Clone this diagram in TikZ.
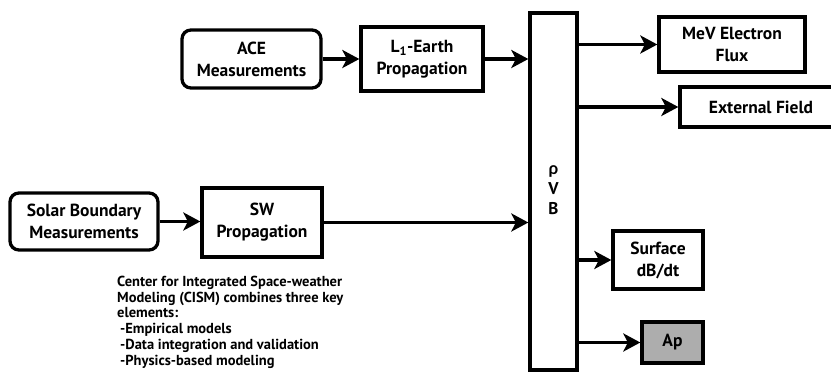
\documentclass[tikz,border=0pt]{standalone}
\usepackage{fontspec}
\setmainfont{PT Sans}
\newfontfamily\greekfont{Lato}
\usetikzlibrary{arrows.meta}
\begin{document}
\begin{tikzpicture}[x=1pt,y=-1pt,
  box/.style={draw,line width=3.3pt,align=center,inner sep=0pt,font=\fontsize{17.5}{22}\selectfont\bfseries},
  rbox/.style={box,rounded corners=9pt},
  arr/.style={line width=3.2pt,-{Stealth[length=17pt,width=18pt,inset=4.5pt]}}]
\useasboundingbox (0,0) rectangle (831,379);
\node[rbox,minimum width=139pt,minimum height=58pt] (ace) at (251.5,59) {ACE\\Measurements};
\node[box,minimum width=122pt,minimum height=64pt] (l1) at (422,59) {L\textsubscript{1}-Earth\\Propagation};
\node[box,minimum width=47pt,minimum height=357pt] (pvb) at (553.5,191.5) {};
\node[font=\fontsize{17}{20}\selectfont\bfseries,align=center] (pvbt) at (553.5,190) {{\greekfont ρ}\\V\\B};
\node[box,minimum width=146pt,minimum height=55pt] (mev) at (732,44.5) {MeV Electron\\Flux};
\node[box,minimum width=162pt,minimum height=40pt] (ext) at (761,107) {External Field};
\node[box,minimum width=90pt,minimum height=58pt] (surf) at (658,260) {Surface\\dB/dt};
\node[box,fill=black!32,minimum width=61pt,minimum height=41pt] (ap) at (672.5,342.5) {Ap};
\node[rbox,minimum width=148pt,minimum height=57pt] (solar) at (84,221.5) {Solar Boundary\\Measurements};
\node[box,minimum width=120pt,minimum height=69pt] (sw) at (262,222.5) {SW\\Propagation};
\node[anchor=north west,align=left,inner sep=0pt,font=\fontsize{14.5}{15.7}\selectfont\bfseries] (cism) at (117,276) {Center for Integrated Space-weather\\Modeling (CISM) combines three key\\elements:\\\hspace*{3pt}-Empirical models\\\hspace*{3pt}-Data integration and validation\\\hspace*{3pt}-Physics-based modeling};
\draw[arr] (ace.east) -- (l1.west);
\draw[arr] (l1.east) -- (l1.east -| pvb.west);
\draw[arr] (solar.east) -- (solar.east -| sw.west);
\draw[arr] (sw.east) -- (sw.east -| pvb.west);
\draw[arr] (pvb.east |- mev.west) -- (mev.west);
\draw[arr] (pvb.east |- ext.west) -- (ext.west);
\draw[arr] (pvb.east |- surf.west) -- (surf.west);
\draw[arr] (pvb.east |- ap.west) -- (ap.west);
\end{tikzpicture}
\end{document}
